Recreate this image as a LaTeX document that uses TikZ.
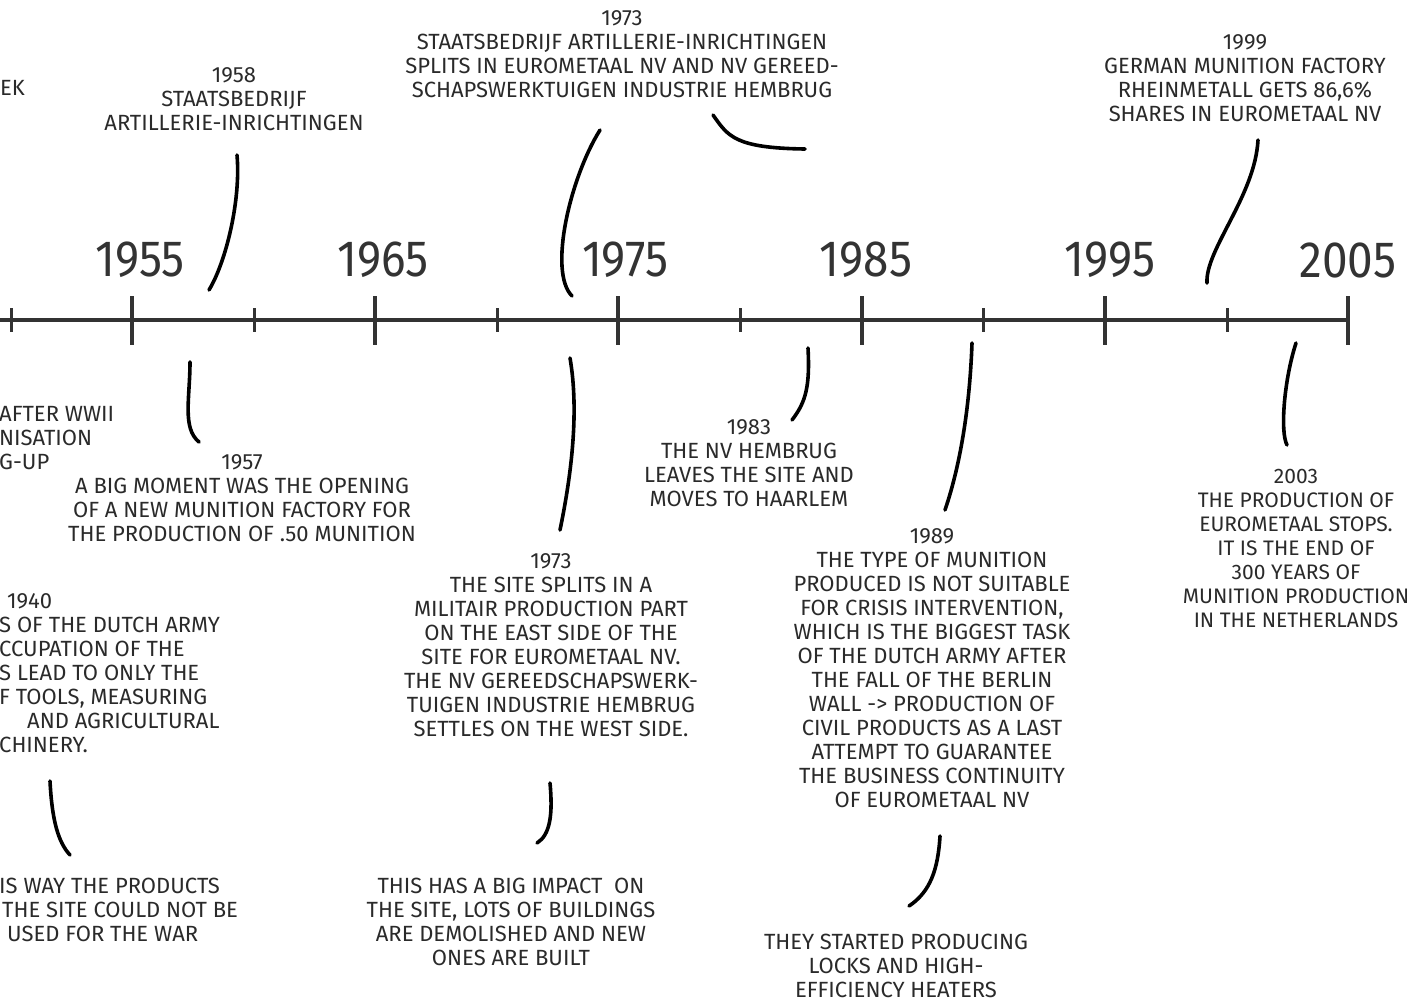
\documentclass[tikz,border=0pt]{standalone}
\usepackage{fontspec}
\newfontfamily\xk{Fira Sans}
\newfontfamily\xky[FakeStretch=0.9]{Fira Sans}
\definecolor{ink}{HTML}{2A2A2A}
\definecolor{axisc}{HTML}{333333}
\tikzset{
  txt/.style={font=\xk\fontsize{22}{24}\selectfont, text=ink, align=center, inner sep=0pt},
  txtn/.style={txt, font=\xk\fontsize{21}{24}\selectfont},
  txtl/.style={txt, align=left},
  yearlab/.style={font=\xky\fontsize{51}{51}\selectfont, text=axisc, inner sep=0pt},
  conn/.style={line width=3.6pt, line cap=round, black},
  axisline/.style={line width=4pt, axisc},
  majortick/.style={line width=4pt, axisc},
  minortick/.style={line width=3pt, axisc}
}
\begin{document}
\begin{tikzpicture}[x=1pt,y=-1pt]
\useasboundingbox (0,0) rectangle (1413,1002);
\clip (0,0) rectangle (1413,1002);
\fill[white] (0,0) rectangle (1413,1002);
% axis
\draw[axisline] (-5,320) -- (1348,320);
\foreach \x in {132,375,618,862,1105,1348} \draw[majortick] (\x,296) -- (\x,345);
\foreach \x in {11,254,497,740,983,1227} \draw[minortick] (\x,308) -- (\x,332);
\node[yearlab] (y1955) at (140,260) {1955};
\node[yearlab] (y1965) at (383,260) {1965};
\node[yearlab] (y1975) at (625,260) {1975};
\node[yearlab] (y1985) at (866,260) {1985};
\node[yearlab] (y1995) at (1110,260) {1995};
\node[yearlab] (y2005) at (1348,260) {2005};
% text blocks
\node[txt, anchor=west] (tEK) at (0,88) {EK};
\node[txtl, anchor=west] (tWWII) at (-1,438) {AFTER WWII\\NISATION\\G-UP};
\node[txt] (t1958) at (234,99) {1958\\STAATSBEDRIJF\\ARTILLERIE-INRICHTINGEN};
\node[txt] (t1957) at (242,498) {1957\\A BIG MOMENT WAS THE OPENING\\OF A NEW MUNITION FACTORY FOR\\THE PRODUCTION OF .50 MUNITION};
\node[txt] (t1973a) at (622,54.5) {1973\\STAATSBEDRIJF ARTILLERIE-INRICHTINGEN\\SPLITS IN EUROMETAAL NV AND NV GEREED-\\SCHAPSWERKTUIGEN INDUSTRIE HEMBRUG};
\node[txt] (t1999) at (1245,78.5) {1999\\GERMAN MUNITION FACTORY\\RHEINMETALL GETS 86,6\%\\SHARES IN EUROMETAAL NV};
\node[txt] (t1983) at (749,463.5) {1983\\THE NV HEMBRUG\\LEAVES THE SITE AND\\MOVES TO HAARLEM};
\node[txt] (t1973b) at (551,645.5) {1973\\THE SITE SPLITS IN A\\MILITAIR PRODUCTION PART\\ON THE EAST SIDE OF THE\\SITE FOR EUROMETAAL NV.\\THE NV GEREEDSCHAPSWERK-\\TUIGEN INDUSTRIE HEMBRUG\\SETTLES ON THE WEST SIDE.};
\node[txt] (t1989) at (932,668) {1989\\THE TYPE OF MUNITION\\PRODUCED IS NOT SUITABLE\\FOR CRISIS INTERVENTION,\\WHICH IS THE BIGGEST TASK\\OF THE DUTCH ARMY AFTER\\THE FALL OF THE BERLIN\\WALL -> PRODUCTION OF\\CIVIL PRODUCTS AS A LAST\\ATTEMPT TO GUARANTEE\\THE BUSINESS CONTINUITY\\OF EUROMETAAL NV};
\node[txtn] (t2003) at (1296,548.5) {2003\\THE PRODUCTION OF\\EUROMETAAL STOPS.\\IT IS THE END OF\\300 YEARS OF\\MUNITION PRODUCTION\\IN THE NETHERLANDS};
\node[txtl, anchor=west] (t1940) at (-1,673.5) {\hspace*{8pt}1940\\S OF THE DUTCH ARMY\\CCUPATION OF THE\\S LEAD TO ONLY THE\\F TOOLS, MEASURING\\\hspace*{28pt}AND AGRICULTURAL\\CHINERY.};
\node[txtl, anchor=west] (tway) at (-1,910) {IS WAY THE PRODUCTS\\\hspace*{3pt}THE SITE COULD NOT BE\\\hspace*{8pt}USED FOR THE WAR};
\node[txt] (timpact) at (511,922) {THIS HAS A BIG IMPACT\ \ ON\\THE SITE, LOTS OF BUILDINGS\\ARE DEMOLISHED AND NEW\\ONES ARE BUILT};
\node[txt] (tlocks) at (896,966) {THEY STARTED PRODUCING\\LOCKS AND HIGH-\\EFFICIENCY HEATERS};
% connector endpoints
\coordinate (s1) at (237,155); \coordinate (e1) at (209,290);
\coordinate (s2) at (190,362); \coordinate (e2) at (199,442);
\coordinate (s3) at (600,130); \coordinate (e3) at (572,296);
\coordinate (s4) at (713,115); \coordinate (e4) at (805,149);
\coordinate (s5) at (570,358); \coordinate (e5) at (560,530);
\coordinate (s6) at (808,348); \coordinate (e6) at (792,420);
\coordinate (s7) at (972,343); \coordinate (e7) at (945,510);
\coordinate (s8) at (1258,140); \coordinate (e8) at (1207,283);
\coordinate (s9) at (1296,343); \coordinate (e9) at (1287,445);
\coordinate (s10) at (50,781); \coordinate (e10) at (70,855);
\coordinate (s11) at (550,783); \coordinate (e11) at (537,843);
\coordinate (s12) at (940,836); \coordinate (e12) at (909,906);
% connectors
\draw[conn] (s1) .. controls (241,200) and (226,262) .. (e1);
\draw[conn] (s2) .. controls (190,398) and (182,428) .. (e2);
\draw[conn] (s3) .. controls (570,178) and (548,272) .. (e3);
\draw[conn] (s4) .. controls (728,136) and (734,148) .. (e4);
\draw[conn] (s5) .. controls (579,410) and (572,472) .. (e5);
\draw[conn] (s6) .. controls (810,386) and (806,402) .. (e6);
\draw[conn] (s7) .. controls (970,400) and (962,460) .. (e7);
\draw[conn] (s8) .. controls (1255,196) and (1205,250) .. (e8);
\draw[conn] (s9) .. controls (1284,380) and (1280,432) .. (e9);
\draw[conn] (s10) .. controls (52,820) and (58,842) .. (e10);
\draw[conn] (s11) .. controls (553,815) and (550,835) .. (e11);
\draw[conn] (s12) .. controls (938,870) and (930,892) .. (e12);
\end{tikzpicture}
\end{document}
